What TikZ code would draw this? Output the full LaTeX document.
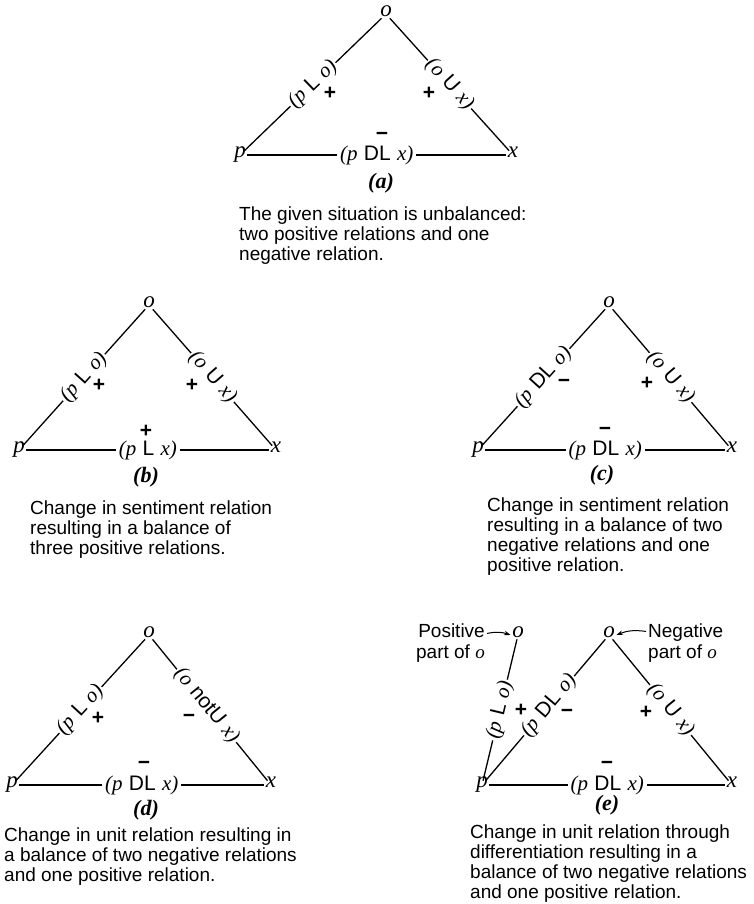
\documentclass[tikz,border=0pt]{standalone}
\usepackage{fontspec}
\setmainfont{Liberation Sans}
\newfontfamily\serifit{Liberation Serif}
\usetikzlibrary{arrows.meta}
\newcommand\vi[1]{{\serifit\itshape #1}}
\newcommand\rl[3]{\vi{(#1}\hspace{0.3em}#2\hspace{0.3em}\vi{#3)}}
\begin{document}
\begin{tikzpicture}[x=1pt,y=1pt,
  vtx/.style={font=\serifit\itshape\fontsize{23}{23}\selectfont, inner sep=1.5pt, text height=1ex, text depth=0pt},
  rel/.style={sloped, fill=white, inner sep=1.5pt, font=\fontsize{21}{21}\selectfont},
  hrel/.style={fill=white, inner sep=3pt, font=\fontsize{21}{21}\selectfont},
  sgn/.style={font=\bfseries\fontsize{21}{21}\selectfont, inner sep=0pt},
  plbl/.style={font=\serifit\bfseries\itshape\fontsize{22}{22}\selectfont},
  captxt/.style={anchor=north west, align=left, inner sep=0pt, font=\fontsize{19}{20}\selectfont},
  ln/.style={line width=1.3pt},
  arr/.style={line width=1pt, -{Stealth[length=6.5pt,width=4.5pt]}}
]
\useasboundingbox (0,0) rectangle (753,904);

% ---------- (a)
\node[vtx] (oa) at (386,890) {o};
\node[vtx] (pa) at (240,749) {p};
\node[vtx] (xa) at (513,749) {x};
\draw[ln] (pa) -- node[rel] (la1) {\rl{p}{L}{o}} (oa);
\draw[ln] (oa) -- node[rel] (la2) {\rl{o}{U}{x}} (xa);
\draw[ln] (pa) -- node[hrel] (la3) {\rl{p}{DL}{x}} (xa);
\node[sgn] (sa1) at (330,811) {+};
\node[sgn] (sa2) at (429,811) {+};
\node[sgn] (sa3) at (382,768) {−};
\node[plbl] (ta) at (381,721) {(a)};
\node[captxt] (ca) at (239,697) {The given situation is unbalanced:\\two positive relations and one\\negative relation.};

% ---------- (b)
\node[vtx] (ob) at (149,599) {o};
\node[vtx] (pb) at (19,454) {p};
\node[vtx] (xb) at (276,454) {x};
\draw[ln] (pb) -- node[rel] (lb1) {\rl{p}{L}{o}} (ob);
\draw[ln] (ob) -- node[rel] (lb2) {\rl{o}{U}{x}} (xb);
\draw[ln] (pb) -- node[hrel] (lb3) {\rl{p}{L}{x}} (xb);
\node[sgn] (sb1) at (99,519) {+};
\node[sgn] (sb2) at (192,519) {+};
\node[sgn] (sb3) at (146,473) {+};
\node[plbl] (tb) at (146,427) {(b)};
\node[captxt] (cb) at (30,403) {Change in sentiment relation\\resulting in a balance of\\three positive relations.};

% ---------- (c)
\node[vtx] (oc) at (609,599) {o};
\node[vtx] (pc) at (478,454) {p};
\node[vtx] (xc) at (732,454) {x};
\draw[ln] (pc) -- node[rel] (lc1) {\rl{p}{DL}{o}} (oc);
\draw[ln] (oc) -- node[rel] (lc2) {\rl{o}{U}{x}} (xc);
\draw[ln] (pc) -- node[hrel] (lc3) {\rl{p}{DL}{x}} (xc);
\node[sgn] (sc1) at (564,521) {−};
\node[sgn] (sc2) at (647,521) {+};
\node[sgn] (sc3) at (605,473) {−};
\node[plbl] (tc) at (602,429) {(c)};
\node[captxt] (cc) at (487,406) {Change in sentiment relation\\resulting in a balance of two\\negative relations and one\\positive relation.};

% ---------- (d)
\node[vtx] (od) at (149,269) {o};
\node[vtx] (pd) at (12,119) {p};
\node[vtx] (xd) at (271,119) {x};
\draw[ln] (pd) -- node[rel] (ld1) {\rl{p}{L}{o}} (od);
\draw[ln] (od) -- node[rel, pos=0.47] (ld2) {\rl{o}{notU}{x}} (xd);
\draw[ln] (pd) -- node[hrel] (ld3) {\rl{p}{DL}{x}} (xd);
\node[sgn] (sd1) at (98,186) {+};
\node[sgn] (sd2) at (189,186) {−};
\node[sgn] (sd3) at (144,139) {−};
\node[plbl] (td) at (146,94) {(d)};
\node[captxt] (cd) at (4,76) {Change in unit relation resulting in\\a balance of two negative relations\\and one positive relation.};

% ---------- (e)
\node[vtx] (oe) at (609,269) {o};
\node[vtx] (oe2) at (518,269) {o};
\node[vtx] (pe) at (482,119) {p};
\node[vtx] (xe) at (732,119) {x};
\draw[ln] (pe) -- node[rel] (le0) {\rl{p}{L}{o}} (oe2);
\draw[ln] (pe) -- node[rel, pos=0.53] (le1) {\rl{p}{DL}{o}} (oe);
\draw[ln] (oe) -- node[rel] (le2) {\rl{o}{U}{x}} (xe);
\draw[ln] (pe) -- node[hrel] (le3) {\rl{p}{DL}{x}} (xe);
\node[sgn] (se0) at (521,194) {+};
\node[sgn] (se1) at (567,191) {−};
\node[sgn] (se2) at (646,192) {+};
\node[sgn] (se3) at (607,139) {−};
\node[plbl] (te) at (607,99) {(e)};
\node[captxt] (ce) at (470,79) {Change in unit relation through\\differentiation resulting in a\\balance of two negative relations\\and one positive relation.};
\node[align=right, anchor=east, inner sep=0pt, font=\fontsize{19}{21}\selectfont] (posn) at (485,261) {Positive\\part of \vi{o}};
\node[align=left, anchor=west, inner sep=0pt, font=\fontsize{19}{21}\selectfont] (negn) at (648,261) {Negative\\part of \vi{o}};
\draw[arr] ([xshift=2pt,yshift=-10pt]posn.north east) to[bend left=15] (oe2.west);
\draw[arr] ([xshift=-2pt,yshift=-8pt]negn.north west) to[bend right=15] (oe.east);
\end{tikzpicture}
\end{document}
